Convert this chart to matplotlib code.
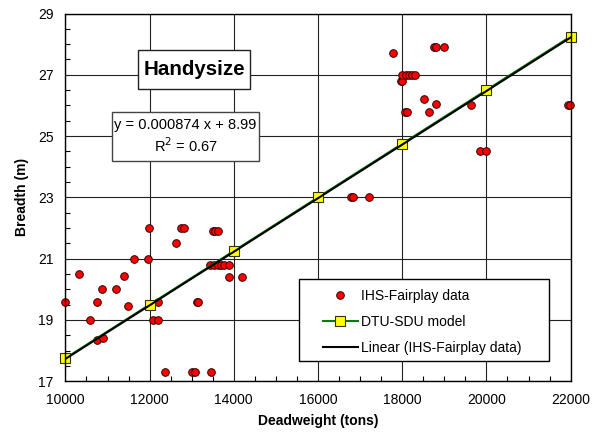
import matplotlib.pyplot as plt
from matplotlib.patches import Rectangle
import numpy as np

plt.rcParams['font.family'] = ['Liberation Sans', 'DejaVu Sans']

# IHS-Fairplay data (deadweight in tons, breadth in m)
ihs_dwt = [10000, 10330, 10590, 10750, 10760, 10900, 10880, 11200, 11390, 11480,
           11630, 11970, 11980, 12200, 12080, 12200, 12360, 12620, 12750, 12810,
           13010, 13090, 13120, 13150, 13460, 13440, 13500, 13560, 13620, 13540,
           13620, 13700, 13760, 13890, 13890, 14200, 16790, 16830, 17220, 17790,
           17960, 17990, 18000, 18080, 18150, 18240, 18310, 18060, 18120, 18510,
           18630, 18760, 18800, 18990, 18810, 19640, 19840, 20000, 21950, 21990]
ihs_breadth = [19.6, 20.5, 19.0, 19.6, 18.35, 18.4, 20.0, 20.0, 20.45, 19.45,
               21.0, 21.0, 22.0, 19.6, 19.0, 19.0, 17.3, 21.5, 22.0, 22.0,
               17.3, 17.3, 19.6, 19.6, 17.3, 20.8, 21.9, 21.9, 21.9, 20.8,
               20.8, 20.8, 20.8, 20.8, 20.4, 20.4, 23.0, 23.0, 23.0, 27.7,
               26.8, 26.8, 27.0, 27.0, 27.0, 27.0, 27.0, 25.8, 25.8, 26.2,
               25.8, 27.9, 27.9, 27.9, 26.05, 26.0, 24.5, 24.5, 26.0, 26.0]

# DTU-SDU model
dtu_dwt = [10000, 12000, 14000, 16000, 18000, 20000, 22000]
dtu_breadth = [17.75, 19.5, 21.25, 23.0, 24.75, 26.5, 28.25]

# linear trendline shown in the chart
slope = 0.000874
intercept = 8.99

fig = plt.figure(figsize=(6, 4.36), dpi=100)
ax = fig.add_axes([0.109, 0.1255, 0.842, 0.8435])

ax.grid(True, which='major', color='#222222', linewidth=0.8)
ax.set_axisbelow(True)

ax.plot(ihs_dwt, ihs_breadth, 'o', color='red', markeredgecolor='#330000',
        markeredgewidth=0.7, markersize=5.5, label='IHS-Fairplay data',
        zorder=3, clip_on=False)
ax.plot(dtu_dwt, dtu_breadth, '-s', color='#008000', linewidth=1.5,
        markerfacecolor='yellow', markeredgecolor='#333300', markeredgewidth=0.8,
        markersize=6.5, label='DTU-SDU model', zorder=4, clip_on=False)
xs = np.array([10000, 22000])
ax.plot(xs, slope * xs + intercept, color='black', linewidth=1.5,
        label='Linear (IHS-Fairplay data)', zorder=5)

ax.set_xlim(10000, 22000)
ax.set_ylim(17, 29)
ax.set_xticks(np.arange(10000, 22001, 2000))
ax.set_xticks(np.arange(10000, 22001, 500), minor=True)
ax.set_yticks(np.arange(17, 29.1, 2))
ax.set_yticks(np.arange(17, 29.1, 0.5), minor=True)
ax.tick_params(which='both', direction='in', labelsize=10)
ax.tick_params(which='major', length=0, pad=8.5)
ax.tick_params(which='minor', length=3.5, width=0.8)
for s in ax.spines.values():
    s.set_linewidth(1.0)
    s.set_zorder(6)

ax.set_xlabel('Deadweight (tons)', fontsize=10, fontweight='bold', labelpad=5)
ax.set_ylabel('Breadth (m)', fontsize=10, fontweight='bold', labelpad=6.5)

# title box
ax.add_patch(Rectangle((0.1445, 0.794), 0.221, 0.107, transform=ax.transAxes,
                       facecolor='white', edgecolor='#222222', linewidth=1.0, zorder=6))
ax.text(0.255, 0.847, 'Handysize', transform=ax.transAxes, ha='center', va='center',
        fontsize=14.8, fontweight='bold', zorder=7)

# equation box
ax.add_patch(Rectangle((0.0918, 0.598), 0.292, 0.135, transform=ax.transAxes,
                       facecolor='white', edgecolor='#444444', linewidth=1.0, zorder=6))
ax.text(0.238, 0.666, 'y = 0.000874 x + 8.99\nR$^2$ = 0.67', transform=ax.transAxes,
        ha='center', va='center', fontsize=10.5, linespacing=1.3, zorder=7)

# legend box
ax.add_patch(Rectangle((0.463, 0.054), 0.494, 0.223, transform=ax.transAxes,
                       facecolor='white', edgecolor='black', linewidth=1.0, zorder=6))
leg = ax.legend(loc='upper left', bbox_to_anchor=(0.510, 0.252), fontsize=10,
                frameon=False, borderpad=0, borderaxespad=0,
                labelspacing=0.87, handlelength=2.5, handletextpad=0.2)
leg.set_zorder(7)

fig.savefig('out.png', dpi=100)
